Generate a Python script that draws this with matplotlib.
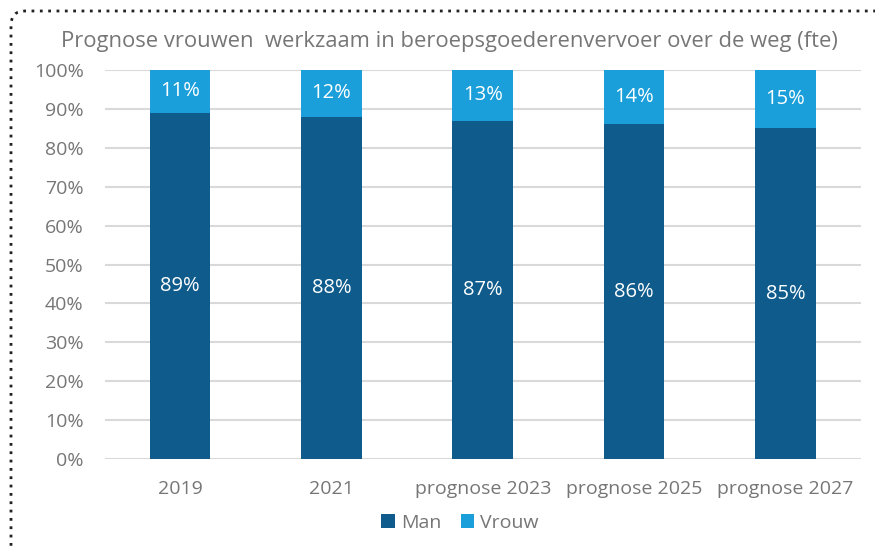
import matplotlib
matplotlib.use("Agg")
import matplotlib.pyplot as plt
from matplotlib.patches import FancyBboxPatch

categories = ["2019", "2021", "prognose 2023", "prognose 2025", "prognose 2027"]
man = [89, 88, 87, 86, 85]
vrouw = [11, 12, 13, 14, 15]
yticks = [0, 10, 20, 30, 40, 50, 60, 70, 80, 90, 100]

plt.rcParams['font.family'] = ['Open Sans', 'DejaVu Sans']

c_man = "#0F5B8C"
c_vrouw = "#1A9FDA"
gray = "#767676"

fig = plt.figure(figsize=(8.75, 5.46), dpi=100)
W, H = 875, 546
ax = fig.add_axes([104.5 / W, (H - 459) / H, (861 - 104.5) / W, (459 - 70) / H])

x = list(range(len(categories)))
b1 = ax.bar(x, man, width=0.4, color=c_man, zorder=3)
b2 = ax.bar(x, vrouw, width=0.4, bottom=man, color=c_vrouw, zorder=3)

for i in x:
    ax.text(i, man[i] / 2, f"{man[i]}%", ha="center", va="center", color="white", fontsize=14.5, zorder=4)
    ax.text(i, man[i] + vrouw[i] / 2, f"{vrouw[i]}%", ha="center", va="center", color="white", fontsize=14.5, zorder=4)

ax.set_ylim(0, 100)
ax.set_xlim(-0.5, len(categories) - 0.5)
ax.set_yticks(yticks)
ax.set_yticklabels([f"{v}%" for v in yticks])
ax.set_xticks(x)
ax.set_xticklabels(categories)
ax.tick_params(axis="both", length=0, colors=gray, labelsize=14)
ax.tick_params(axis="y", pad=15)
ax.tick_params(axis="x", pad=15)
for s in ax.spines.values():
    s.set_visible(False)
ax.yaxis.grid(True, color="#D9D9D9", linewidth=1.5, zorder=0)
ax.set_axisbelow(True)

fig.text(449 / W, (H - 41) / H, "Prognose vrouwen  werkzaam in beroepsgoederenvervoer over de weg (fte)",
         ha="center", va="center", color=gray, fontsize=15.8)

leg = fig.legend([b1, b2], ["Man", "Vrouw"], loc="center", bbox_to_anchor=(460 / W, (H - 523) / H),
                 ncol=2, frameon=False, fontsize=14, handlelength=0.7, handleheight=0.7,
                 handletextpad=0.3, columnspacing=1.0)
for t in leg.get_texts():
    t.set_color(gray)

border = FancyBboxPatch((11, -50), 900, H - 11 + 50, boxstyle="round,pad=0,rounding_size=14",
                        transform=None, fill=False, edgecolor="#222222", linestyle=(0, (1, 2)),
                        linewidth=2, clip_on=False)
fig.patches.append(border)

fig.savefig("out.png", dpi=100)
